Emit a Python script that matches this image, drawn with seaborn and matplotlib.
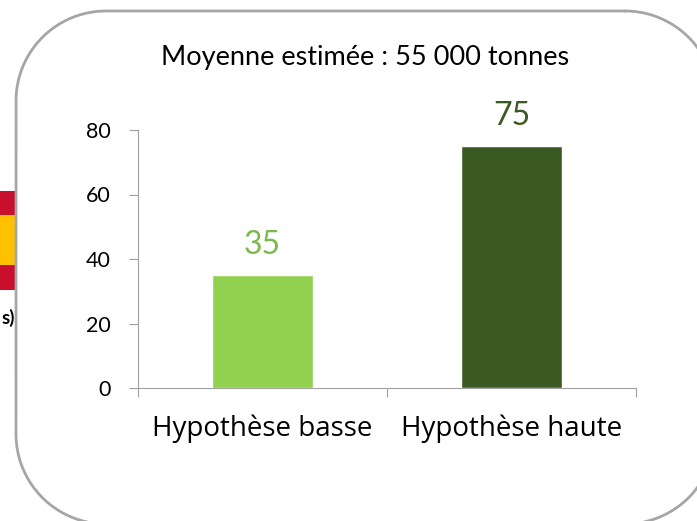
# -*- coding: utf-8 -*-
"""
Moyenne estimée : hypothèse basse / hypothèse haute
"""
import matplotlib
matplotlib.use("Agg")
import matplotlib.pyplot as plt
from matplotlib.patches import Rectangle
import numpy as np
import pandas as pd
import seaborn as sns

hypotheses = ["Hypothèse basse", "Hypothèse haute"]
valeurs = [35, 75]
couleurs = ["#92D050", "#3B5A23"]
couleurs_txt = ["#7DB84A", "#3B5A23"]
graduations = [0, 20, 40, 60, 80]
titre = "Moyenne estimée : 55 000 tonnes"

sns.set_theme(style="white")
plt.rcParams["font.family"] = ["Lato", "DejaVu Sans"]

W, H = 697, 521
fig = plt.figure(figsize=(W / 100, H / 100), dpi=100, facecolor="white")


def cadre_arrondi(x0, y0, x1, y1, r):
    # contour du cadre en pixels, coins en vrais arcs de cercle
    coins = [(x1 - r, y0 + r, -90), (x1 - r, y1 - r, 0), (x0 + r, y1 - r, 90), (x0 + r, y0 + r, 180)]
    xs, ys = [], []
    for cx, cy, debut in coins:
        a = np.radians(np.linspace(debut, debut + 90, 40))
        xs.extend(cx + r * np.cos(a))
        ys.extend(cy + r * np.sin(a))
    return xs + xs[:1], ys + ys[:1]


# calque en pixels pour le cadre arrondi et le reste de la diapo
fond = fig.add_axes([0, 0, 1, 1])
fond.set_xlim(0, W)
fond.set_ylim(H, 0)
fond.axis("off")
fond.add_patch(Rectangle((0, 191), 16, 24, color="#C8102E", lw=0))
fond.add_patch(Rectangle((0, 215), 16, 50, color="#FFC000", lw=0))
fond.add_patch(Rectangle((0, 265), 16, 25, color="#C8102E", lw=0))
fond.text(15, 318, "s)", ha="right", va="center", fontsize=13.5,
          fontweight="bold", color="black", family=["Lato", "DejaVu Sans"])
cx, cy = cadre_arrondi(16, 11, 715, 524, 90)
fond.plot(cx, cy, color="#A6A6A6", lw=2)
fond.text(365, 58, titre, ha="center", va="center", fontsize=19.5, color="black")

ax = fig.add_axes([138 / W, 1 - 388 / H, 498 / W, 258 / H])
ax.patch.set_alpha(0)
df = pd.DataFrame({"hypothese": hypotheses, "valeur": valeurs})
sns.barplot(data=df, x="hypothese", y="valeur", hue="hypothese", palette=couleurs,
            width=0.404, legend=False, ax=ax, saturation=1)
ax.set_xlim(-0.5, 1.5)
ax.set_ylim(0, 80)
ax.set_yticks(graduations)
ax.set_xticks([-0.5, 0.5, 1.5], minor=False, labels=["", "", ""])
ax.set_xticks([0, 1], minor=True, labels=hypotheses)
ax.set_xlabel("")
ax.set_ylabel("")

ax.tick_params(axis="y", which="major", left=True, length=6.5, width=0.8, color="#A0A0A0",
               labelsize=15.5, labelcolor="black", pad=13)
ax.tick_params(axis="x", which="major", bottom=True, length=6.5, width=0.8, color="#A0A0A0")
ax.tick_params(axis="x", which="minor", bottom=False, labelsize=20, labelcolor="black", pad=15)
for lab in ax.get_xticklabels(minor=True):
    lab.set_family(["Open Sans", "DejaVu Sans"])

for nom in ["top", "right"]:
    ax.spines[nom].set_visible(False)
for nom in ["left", "bottom"]:
    ax.spines[nom].set_color("#A0A0A0")
    ax.spines[nom].set_linewidth(0.8)

for i, v in enumerate(valeurs):
    ax.annotate(str(v), (i, v), xytext=(0, 11), textcoords="offset points",
                ha="center", va="bottom", fontsize=23, color=couleurs_txt[i])

fig.savefig("out.png", dpi=100)
